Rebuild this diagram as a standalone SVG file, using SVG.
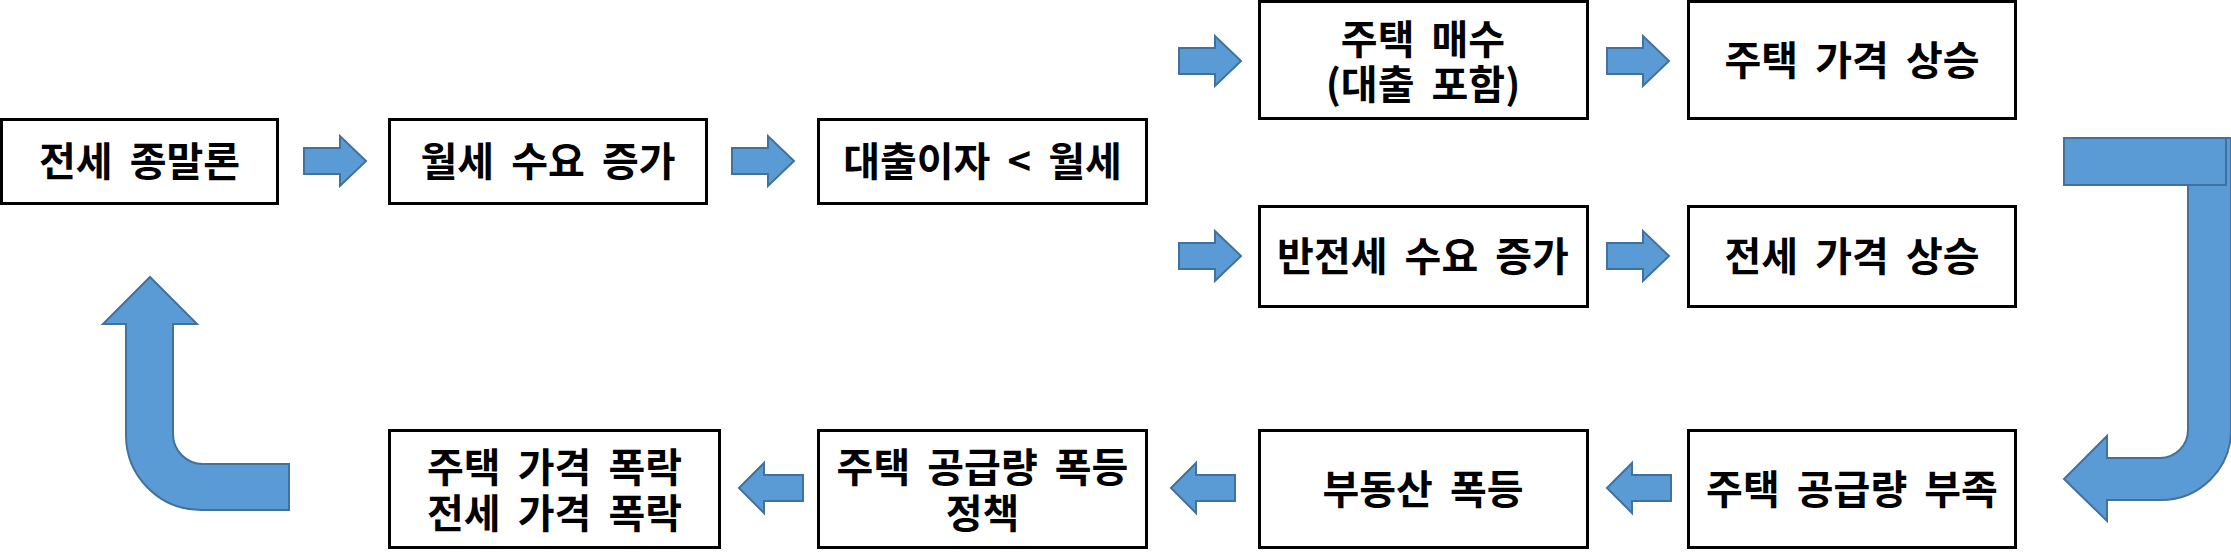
<svg xmlns="http://www.w3.org/2000/svg" width="2231" height="558" viewBox="0 0 2231 558">
<style>
.box{fill:#fff;stroke:#000;stroke-width:3}
.t{font-family:"Noto Sans CJK KR","Noto Sans",sans-serif;font-weight:bold;font-size:40px;word-spacing:8px;fill:#000;text-anchor:middle}
.ar{fill:#5B9BD5;stroke:#41719C;stroke-width:2;stroke-linejoin:miter}
</style>
<defs>
<path id="ra" d="M0 -13 H36 V-25 L62 0 L36 25 V13 H0 Z"/>
<path id="la" d="M0 0 L25 -25 V-13 H64 V13 H25 V25 Z"/>
</defs>
<rect width="2231" height="558" fill="#fff"/>
<g id="connectors">
<use href="#ra" class="ar" x="304" y="161"/>
<use href="#ra" class="ar" x="732" y="161"/>
<use href="#ra" class="ar" x="1179" y="61"/>
<use href="#ra" class="ar" x="1607" y="61"/>
<use href="#ra" class="ar" x="1179" y="256"/>
<use href="#ra" class="ar" x="1607" y="256"/>
<use href="#la" class="ar" x="1607" y="488"/>
<use href="#la" class="ar" x="1171" y="488"/>
<use href="#la" class="ar" x="739" y="488"/>
<path class="ar" d="M2188 138 H2231 V430 A70 70 0 0 1 2161 500 H2107 V521 L2064 479 L2107 436 V458 H2160 A28 28 0 0 0 2188 430 Z"/>
<rect class="ar" x="2064" y="138" width="162" height="47"/>
<path class="ar" d="M150 277 L197 324 H173 V434 A30 30 0 0 0 203 464 H289 V510 H201 A75 75 0 0 1 126 435 V324 H103 Z"/>
</g>
<g id="n1"><rect class="box" x="1.5" y="119.5" width="276" height="84"/><text class="t" x="139.5" y="176">전세 종말론</text></g>
<g id="n2"><rect class="box" x="389.5" y="119.5" width="317" height="84"/><text class="t" x="548" y="176">월세 수요 증가</text></g>
<g id="n3"><rect class="box" x="818.5" y="119.5" width="328" height="84"/><text class="t" x="982.5" y="176">대출이자 &lt; 월세</text></g>
<g id="n4"><rect class="box" x="1259.5" y="1.5" width="328" height="117"/><text class="t" x="1423" y="54">주택 매수<tspan x="1423" dy="45">(대출 포함)</tspan></text></g>
<g id="n5"><rect class="box" x="1688.5" y="1.5" width="327" height="117"/><text class="t" x="1852" y="75">주택 가격 상승</text></g>
<g id="n6"><rect class="box" x="1259.5" y="206.5" width="328" height="100"/><text class="t" x="1423" y="271">반전세 수요 증가</text></g>
<g id="n7"><rect class="box" x="1688.5" y="206.5" width="327" height="100"/><text class="t" x="1852" y="271">전세 가격 상승</text></g>
<g id="n8"><rect class="box" x="1688.5" y="430.5" width="327" height="117"/><text class="t" x="1852" y="504">주택 공급량 부족</text></g>
<g id="n9"><rect class="box" x="1259.5" y="430.5" width="328" height="117"/><text class="t" x="1423" y="504">부동산 폭등</text></g>
<g id="n10"><rect class="box" x="818.5" y="430.5" width="328" height="117"/><text class="t" x="982.5" y="482">주택 공급량 폭등<tspan x="982.5" dy="46">정책</tspan></text></g>
<g id="n11"><rect class="box" x="389.5" y="430.5" width="330" height="117"/><text class="t" x="554.5" y="482">주택 가격 폭락<tspan x="554.5" dy="46">전세 가격 폭락</tspan></text></g>
</svg>
